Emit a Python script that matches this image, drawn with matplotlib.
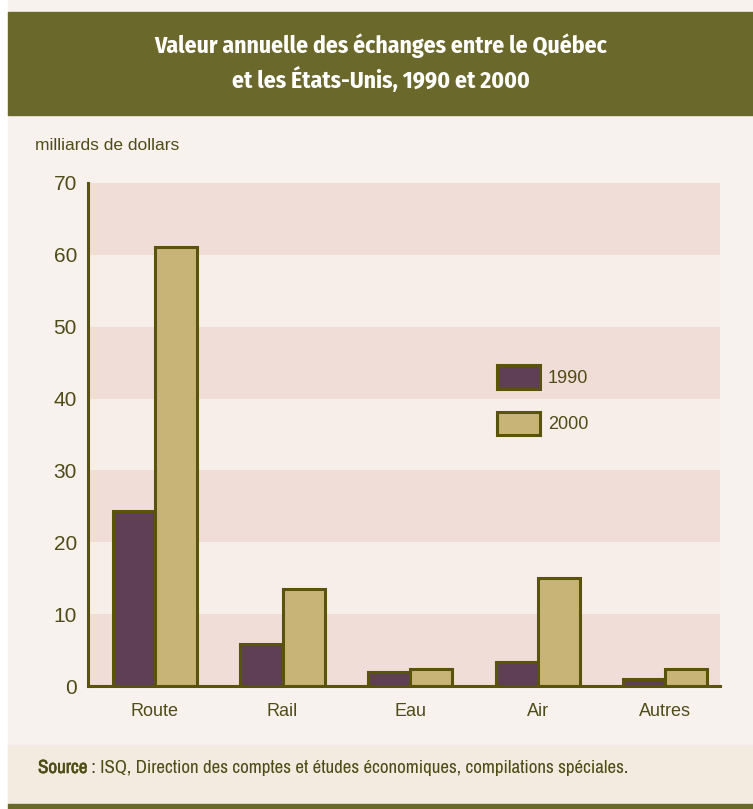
import matplotlib.pyplot as plt
import matplotlib.patheffects as pe
from matplotlib import font_manager
from matplotlib.patches import Rectangle
import numpy as np

categories = ["Route", "Rail", "Eau", "Air", "Autres"]
values_1990 = [24.3, 5.8, 1.9, 3.3, 1.0]
values_2000 = [61.1, 13.5, 2.4, 15.0, 2.3]
yticks = [0, 10, 20, 30, 40, 50, 60, 70]

weights = {}
for f in font_manager.fontManager.ttflist:
    weights.setdefault(f.name, set()).add(f.weight)


def pick(names, need_bold=False, default="DejaVu Sans"):
    for n in names:
        if n in weights:
            if not need_bold or any(isinstance(wt, int) and wt >= 700 or wt == "bold" for wt in weights[n]):
                return n
    return default


title_font = pick(["Fira Sans Condensed", "PT Sans Narrow", "Encode Sans Condensed",
                   "Roboto Condensed", "Asap Condensed", "Barlow Condensed", "Liberation Sans Narrow"], True)
narrow_font = pick(["Liberation Sans Narrow", "Arimo Narrow", "Archivo Narrow", "PT Sans Narrow",
                    "Roboto Condensed", "Fira Sans Condensed"])
main_font = pick(["Liberation Sans", "Arimo", "Arial"])

olive = "#6b682c"
text_col = "#4f4c18"
edge_col = "#5a530c"
bg = "#f8f2ef"
band_pink = "#f0ddd7"
band_light = "#f7eeea"
c1990 = "#5e3f55"
c2000 = "#c8b477"

fig = plt.figure(figsize=(7.53, 8.09), dpi=100)
fig.patch.set_facecolor("white")

# page background, title bar, footer
fig.patches.append(Rectangle((8 / 753, 0), 1, 1, transform=fig.transFigure, color=bg, zorder=-10))
fig.patches.append(Rectangle((8 / 753, 1 - 115 / 809), 1, 103 / 809, transform=fig.transFigure,
                             color=olive, zorder=-5))
fig.patches.append(Rectangle((8 / 753, 1 - 804 / 809), 1, 59 / 809, transform=fig.transFigure,
                             color="#f3ebe0", zorder=-5))
fig.patches.append(Rectangle((8 / 753, 0), 1, 5 / 809, transform=fig.transFigure,
                             color=olive, zorder=-5))

title = fig.text(0.5 + 4 / 753, 1 - 63 / 809,
                 "Valeur annuelle des échanges entre le Québec\net les États-Unis, 1990 et 2000",
                 ha="center", va="center", color="white", fontsize=17, fontweight="bold",
                 family=title_font, linespacing=1.4)

fig.text(35 / 753, 1 - 145 / 809, "milliards de dollars", ha="left", va="center",
         color=text_col, fontsize=12.5, family=main_font)

# "Source" in bold: thicken the narrow face with a thin stroke in case it has no bold weight
src_bold = fig.text(38 / 753, 1 - 768 / 809, "Source", ha="left", va="center", color=text_col,
                    fontsize=13.7, fontweight="bold", family=narrow_font,
                    path_effects=[pe.withStroke(linewidth=0.4, foreground=text_col)])
src_rest = fig.text(89 / 753, 1 - 768 / 809,
                    " : ISQ, Direction des comptes et études économiques, compilations spéciales.",
                    ha="left", va="center", color=text_col, fontsize=13.7, family=narrow_font)

ax = fig.add_axes([88 / 753, 1 - 686 / 809, 632 / 753, 503 / 809])
ax.set_facecolor(bg)

# horizontal bands
for i in range(7):
    ax.axhspan(i * 10, i * 10 + 10, color=band_pink if i % 2 == 0 else band_light, zorder=0, lw=0)

x = np.arange(len(categories))
w = 0.33
ax.bar(x - w / 2, values_1990, w, color=c1990, edgecolor=edge_col, linewidth=2.2, label="1990", zorder=3)
ax.bar(x + w / 2, values_2000, w, color=c2000, edgecolor=edge_col, linewidth=2.2, label="2000", zorder=3)

ax.set_xlim(-0.525, 4.43)
ax.set_ylim(0, 70)
ax.set_yticks(yticks)
ax.set_xticks(x)
ax.set_xticklabels(categories)
ax.tick_params(axis="both", length=0, colors=text_col, labelsize=13)
ax.tick_params(axis="y", pad=8, labelsize=15)
ax.tick_params(axis="x", pad=12)
for lab in ax.get_xticklabels() + ax.get_yticklabels():
    lab.set_family(main_font)

for s in ["top", "right"]:
    ax.spines[s].set_visible(False)
for s in ["left", "bottom"]:
    ax.spines[s].set_color(edge_col)
    ax.spines[s].set_linewidth(2.2)
    ax.spines[s].set_zorder(4)

leg = ax.legend(loc="upper left", bbox_to_anchor=(0.622, 0.67), frameon=False,
                handlelength=2.35, handleheight=1.65, labelspacing=1.25, handletextpad=0.45,
                prop={"family": main_font, "size": 13})
for t in leg.get_texts():
    t.set_color(text_col)

# put the rest of the source line right after the bold word
fig.canvas.draw()
bb = src_bold.get_window_extent()
src_rest.set_x(bb.x1 / fig.bbox.width)

fig.savefig("out.png", dpi=100, facecolor=fig.get_facecolor())
